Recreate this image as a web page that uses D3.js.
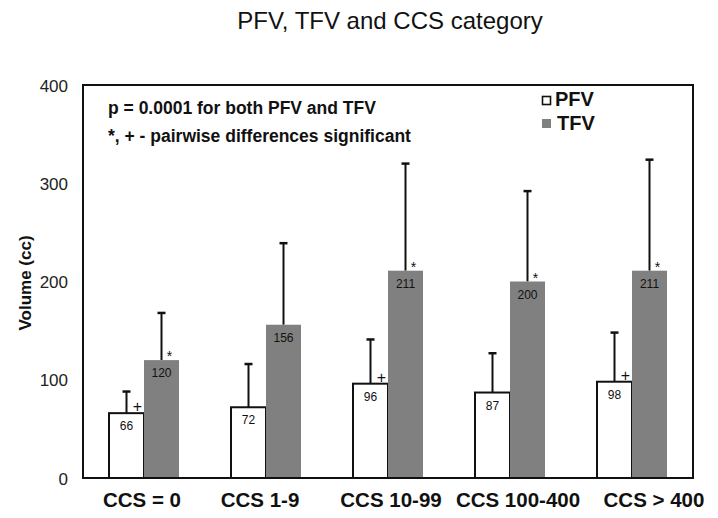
<!DOCTYPE html>
<html><head><meta charset="utf-8">
<script src="https://cdn.jsdelivr.net/npm/d3@7"></script>
<style>body{margin:0;background:#fff}svg{display:block}text{font-family:"Liberation Sans",Arial,sans-serif}</style>
</head><body><svg id="c" width="718" height="518"></svg>
<script>
const categories = ["CCS = 0", "CCS 1-9", "CCS 10-99", "CCS 100-400", "CCS > 400"];
const seriesNames = ["PFV", "TFV"];
const pfvValues = [66, 72, 96, 87, 98];
const tfvValues = [120, 156, 211, 200, 211];
const pfvSD = [22, 44, 45, 40, 50];
const tfvSD = [48, 83, 109, 92, 113];
const pfvMarks = ["+", "", "+", "", "+"];
const tfvMarks = ["*", "", "*", "*", "*"];
const yTicks = [0, 100, 200, 300, 400];
const labelShift = [-2, -6, 3, 8, 22];

const svg = d3.select("#c");
const L = 83, R = 693, T = 85, B = 478;
const x0 = d3.scaleBand().domain(categories).range([L, R]).padding(0);
const bw = x0.bandwidth();
const x1 = d3.scaleBand().domain(seriesNames).range([bw/2 - 35, bw/2 + 35]).padding(0);
const y = d3.scaleLinear().domain([0, 400]).range([B, T]);
const color = {PFV: "#ffffff", TFV: "#808080"};

// title
svg.append("text").attr("x", 390).attr("y", 29).attr("text-anchor", "middle")
  .attr("font-size", 24).attr("fill", "#111").text("PFV, TFV and CCS category");

// y axis labels
const yAxis = d3.axisLeft(y).tickValues(yTicks).tickSize(0).tickPadding(0);
const gy = svg.append("g").attr("transform", `translate(${L-15},0)`).call(yAxis);
gy.select(".domain").remove();
gy.selectAll("text").attr("font-size", 17).attr("fill", "#222")
  .attr("font-family", "Liberation Sans, Arial, sans-serif").attr("dy", "0.36em");

svg.append("text").attr("transform", "translate(31,283) rotate(-90)").attr("text-anchor", "middle")
  .attr("font-size", 17).attr("font-weight", "bold").attr("fill", "#111").text("Volume (cc)");

const data = categories.map((c, i) => ({
  cat: c, i,
  items: [
    {key: "PFV", v: pfvValues[i], sd: pfvSD[i], mark: pfvMarks[i]},
    {key: "TFV", v: tfvValues[i], sd: tfvSD[i], mark: tfvMarks[i]}
  ]
}));

const groups = svg.selectAll(".grp").data(data).join("g")
  .attr("transform", d => `translate(${x0(d.cat)},0)`);

// error bars (drawn behind bars)
groups.selectAll(".err").data(d => d.items).join("g").each(function(d) {
  const g = d3.select(this);
  const cx = x1(d.key) + x1.bandwidth()/2;
  g.append("line").attr("x1", cx).attr("x2", cx).attr("y1", y(d.v)).attr("y2", y(d.v + d.sd))
    .attr("stroke", "#111").attr("stroke-width", 2);
  g.append("line").attr("x1", cx - 4).attr("x2", cx + 4).attr("y1", y(d.v + d.sd)).attr("y2", y(d.v + d.sd))
    .attr("stroke", "#111").attr("stroke-width", 2.5);
});

groups.selectAll(".bar").data(d => d.items).join("rect")
  .attr("x", d => x1(d.key)).attr("width", x1.bandwidth())
  .attr("y", d => y(d.v)).attr("height", d => y(0) - y(d.v))
  .attr("fill", d => color[d.key])
  .attr("stroke", d => d.key === "PFV" ? "#111" : "none").attr("stroke-width", 2);

// value labels
groups.selectAll(".val").data(d => d.items).join("text")
  .attr("x", d => x1(d.key) + x1.bandwidth()/2).attr("y", d => y(d.v) + 17)
  .attr("text-anchor", "middle").attr("font-size", 12).attr("fill", "#111").text(d => d.v);

// significance marks
groups.selectAll(".mk").data(d => d.items.filter(e => e.mark)).join("text")
  .attr("x", d => x1(d.key) + x1.bandwidth()/2 + (d.mark === "+" ? 11 : 8))
  .attr("y", d => y(d.v) + (d.mark === "+" ? -1 : 1))
  .attr("text-anchor", "middle").attr("font-size", d => d.mark === "+" ? 16 : 14).attr("fill", "#111")
  .text(d => d.mark);

// frame
svg.append("rect").attr("x", L).attr("y", T).attr("width", R - L).attr("height", B - T)
  .attr("fill", "none").attr("stroke", "#111").attr("stroke-width", 2);

// x labels
svg.selectAll(".xl").data(categories).join("text")
  .attr("x", (d, i) => x0(d) + bw/2 + labelShift[i]).attr("y", 507)
  .attr("text-anchor", "middle").attr("font-size", 20.5).attr("font-weight", "bold").attr("fill", "#111")
  .text(d => d);

// annotations
svg.append("text").attr("x", 108).attr("y", 114).attr("font-size", 17.5).attr("font-weight", "bold")
  .attr("fill", "#111").text("p = 0.0001 for both PFV and TFV");
svg.append("text").attr("x", 108).attr("y", 142).attr("font-size", 17.5).attr("font-weight", "bold")
  .attr("fill", "#111").text("*, + - pairwise differences significant");

// legend
const leg = svg.append("g");
leg.append("rect").attr("x", 542.5).attr("y", 96.5).attr("width", 8).attr("height", 8)
  .attr("fill", color.PFV).attr("stroke", "#111").attr("stroke-width", 1.6);
leg.append("rect").attr("x", 542).attr("y", 119).attr("width", 9).attr("height", 9)
  .attr("fill", color.TFV);
leg.selectAll("text").data(seriesNames).join("text")
  .attr("x", (d, i) => i === 0 ? 555 : 557).attr("y", (d, i) => i === 0 ? 106 : 130)
  .attr("font-family", "DejaVu Sans, sans-serif")
  .attr("font-size", 20).attr("font-weight", "bold").attr("fill", "#111").text(d => d);
</script></body></html>
